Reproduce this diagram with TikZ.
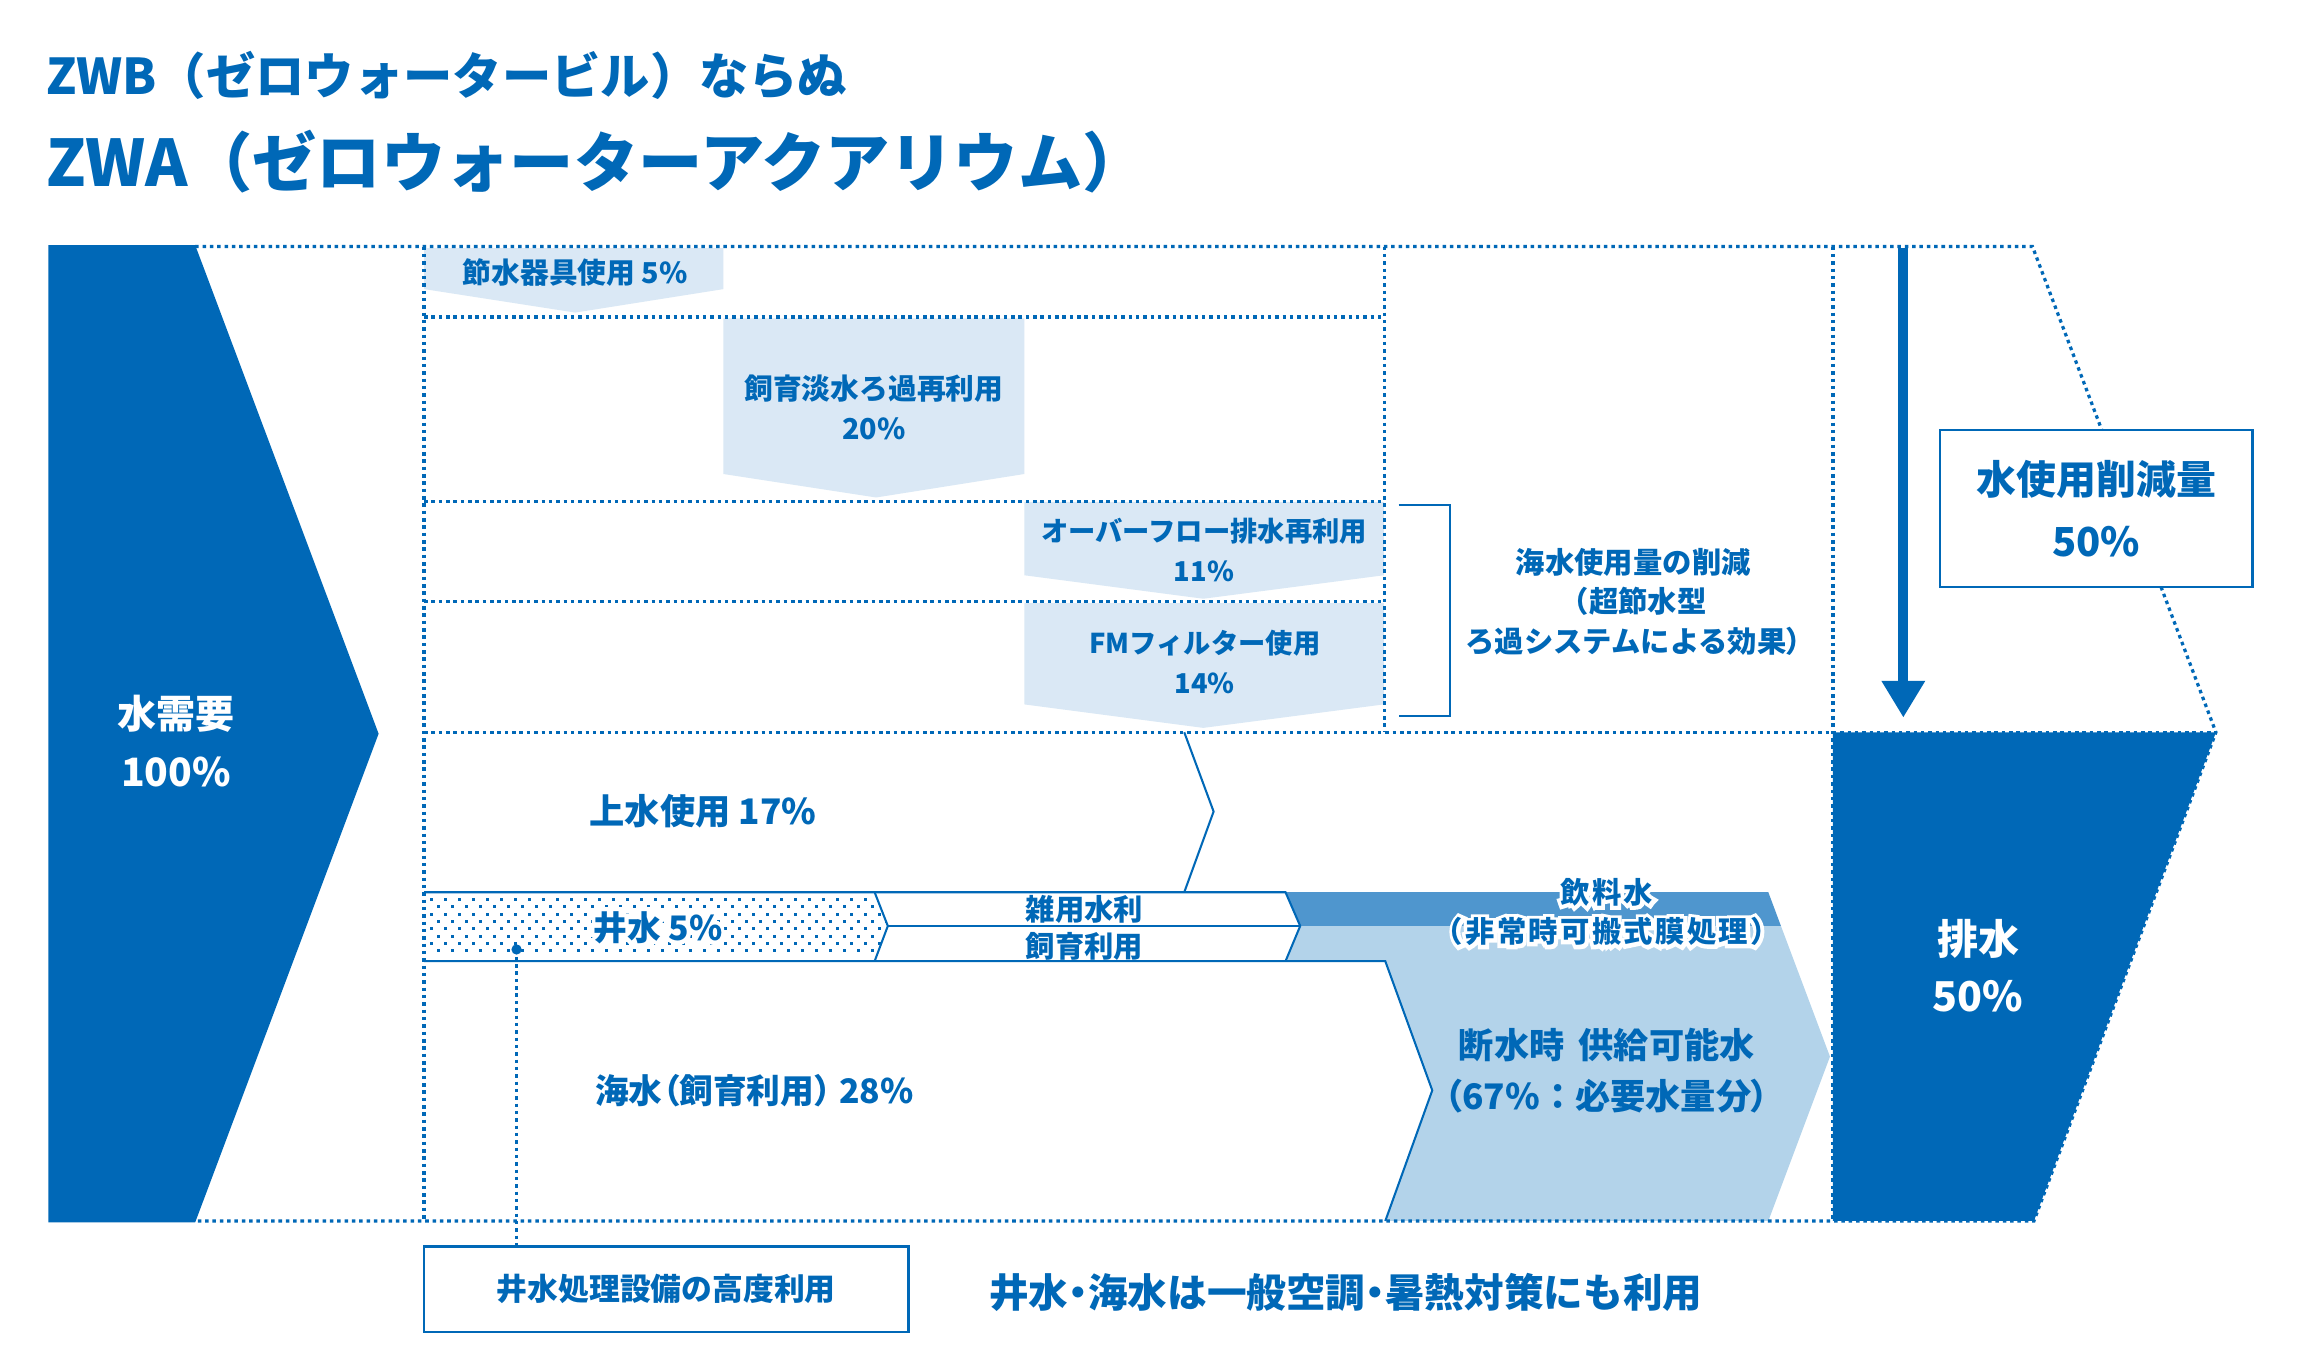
\documentclass[tikz,border=0pt]{standalone}
\usepackage{fontspec}
\setmainfont{Noto Sans CJK JP}
\newfontfamily\halofont{Noto Sans CJK JP}[UprightFont=* Bold, FakeBold=26]
\newfontfamily\pfont{Noto Sans CJK JP}[RawFeature=+palt]
\usetikzlibrary{arrows.meta}
\definecolor{dblue}{HTML}{0068B7}
\definecolor{pale}{HTML}{DAE8F5}
\definecolor{mid}{HTML}{4F96CE}
\definecolor{lite}{HTML}{B3D3EA}
\newcommand{\fs}[2]{\fontsize{#1}{#2}\selectfont\bfseries}
\newcommand{\halo}[1]{\rlap{\color{white}\halofont\mdseries #1}#1}
\newcommand{\pp}[1]{{\pfont\bfseries #1}}
\newcommand{\ls}{\addfontfeature{LetterSpace=8}}
\begin{document}
\begin{tikzpicture}[x=0.5pt,y=-0.5pt,
  dotline/.style={draw=dblue, line width=1.1pt, dash pattern=on 1.2pt off 1.3pt},
  solidline/.style={draw=dblue, line width=0.7pt},
  lbl/.style={text=dblue, inner sep=0pt, align=center},
  wlbl/.style={text=white, inner sep=0pt, align=center},
  paleshape/.style={fill=pale},
  darkshape/.style={fill=dblue},
  boxed/.style={draw=dblue, fill=white, line width=0.8pt, inner sep=0pt}]
% canvas
\fill[white] (0,0) rectangle (1568,921);
\useasboundingbox (0,0) rectangle (1568,921);

% light blue emergency water area and drinking water band
\fill[lite] (886,631) -- (1213.6,631) -- (1247,720) -- (1205,832) -- (944,832)
  -- (976,743) -- (944,655) -- (876,655) -- cycle;
\fill[mid] (876,608) -- (1205,608) -- (1213.6,631) -- (886,631) -- cycle;

% pale reduction arrows
\fill[paleshape] (289,169) -- (493,169) -- (493,197) -- (392,213) -- (289,197) -- cycle;
\fill[paleshape] (493,217) -- (698,217) -- (698,323) -- (597,339) -- (493,323) -- cycle;
\fill[paleshape] (698,342) -- (943,342) -- (943,392) -- (820,408) -- (698,392) -- cycle;
\fill[paleshape] (698,411) -- (943,411) -- (943,480) -- (820,496) -- (698,480) -- cycle;

% dark shapes
\fill[darkshape] (33,167) -- (133,167) -- (258,500) -- (133,833) -- (33,833) -- cycle;
\fill[darkshape] (1249,499) -- (1510,499) -- (1386,832) -- (1249,832) -- cycle;

% dotted frame
\draw[dotline] (133,168) -- (1385,168) -- (1510,499) -- (1386,832) -- (133,832);
\draw[dotline] (289,168) -- (289,832);
\draw[dotline] (943.5,168) -- (943.5,499);
\draw[dotline] (1249,168) -- (1249,832);
\draw[dotline] (289,216) -- (943.5,216);
\draw[dotline] (289,341.5) -- (943.5,341.5);
\draw[dotline] (289,410) -- (943.5,410);
\draw[dotline] (289,499) -- (1510,499);

% well water dotted pattern (staggered)
\begin{scope}
\clip (289,608) -- (596,608) -- (605,631) -- (596,655) -- (289,655) -- cycle;
\foreach \k in {0,...,7}{
  \pgfmathsetmacro{\yy}{612.8+5.03*\k}
  \pgfmathsetmacro{\xo}{mod(\k,2)*4.77}
  \foreach \j in {0,...,33}{
    \fill[dblue] ({294.2+\xo+9.54*\j-1},{\yy-1}) rectangle ++(2,2);
  }
}
\end{scope}

% band outlines
\draw[solidline] (289,608) -- (876,608) -- (886,631) -- (876,655);
\draw[solidline] (596,608) -- (605,631) -- (596,655);
\draw[solidline] (605,631) -- (886,631);
\draw[solidline] (289,655) -- (944,655) -- (976,743) -- (944,832);
\draw[solidline] (807,499) -- (827,553) -- (807,608);

% bracket
\draw[solidline] (953,344) -- (988,344) -- (988,488) -- (953,488);

% big down arrow
\coordinate (aS) at (1297,169);
\coordinate (aE) at (1297,489);
\draw[dblue, line width=3.5pt, -{Triangle[length=12.5pt,width=14pt]}] (aS) -- (aE);

% reduction box
\node[boxed, minimum width=106.5pt, minimum height=53.5pt, text=dblue, align=center,
  font=\fs{13.6}{21}] (redbox) at (1428.5,346.5) {水使用削減量\\50\%};

% well facility box and leader
\node[boxed, minimum width=165pt, minimum height=29pt, text=dblue,
  font=\fs{10.5}{12}] (wellbox) at (454,878.5) {井水処理設備の高度利用};
\fill[dblue] (352,647) circle (3.5);
\coordinate (wdot) at (352,647);
\draw[dotline] (wdot) -- (wellbox.north -| wdot);

% titles
\node[lbl, anchor=west, font=\fs{16.8}{20}] (title1) at (31,51.5) {ZWB（ゼロウォータービル）ならぬ};
\node[lbl, anchor=west, font=\fs{21.9}{26}] (title2) at (31,110) {ZWA（ゼロウォーターアクアリウム）};

% labels
\node[wlbl, font=\fs{13.3}{20}] (demand) at (120,505) {水需要\\100\%};
\node[wlbl, font=\fs{14}{19.5}] (drain) at (1348,658) {排水\\50\%};
\node[lbl, font=\fs{9.8}{12}] (t1) at (392,186) {節水器具使用 5\%};
\node[lbl, font=\fs{9.8}{13.5}] (t2) at (595.5,277.5) {飼育淡水ろ過再利用\\20\%};
\node[lbl, font=\fs{9.3}{13.6}] (t3) at (820.5,375) {オーバーフロー排水再利用\\11\%};
\node[lbl, font=\fs{9.3}{13.6}] (t4) at (821,451) {FMフィルター使用\\14\%};
\node[lbl, font=\fs{10}{13.5}] (t5) at (1113,410) {海水使用量の削減\\（超節水型\\ろ過システムによる効果\pp{）}};
\node[lbl, font=\fs{12}{14}] (t9) at (479,553) {上水使用 17\%};
\node[lbl, font=\fs{11.5}{14}] (t10) at (448.5,632) {\halo{井水 5\%}};
\node[lbl, font=\fs{10}{12}] (t11a) at (739,620) {雑用水利};
\node[lbl, font=\fs{10}{12}] (t11b) at (739,645) {飼育利用};
\node[lbl, font=\fs{10}{12}] (t12a) at (1095,608) {\halo{\ls 飲料水}};
\node[lbl, font=\fs{10}{12}] (t12b) at (1095,635) {\halo{\ls （非常時可搬式膜処理）}};
\node[lbl, font=\fs{12}{17.5}] (t13) at (1095,729.5) {断水時\hspace{0.4em}供給可能水\\\pp{（}67\%：必要水量分\pp{）}};
\node[lbl, font=\fs{11.5}{14}] (t14) at (514,743) {海水\pp{（}飼育利用\pp{）} 28\%};
\node[lbl, font=\fs{13.5}{16}] (t16) at (917,881) {井水\pp{・}海水は一般空調\pp{・}暑熱対策にも利用};
\end{tikzpicture}
\end{document}
